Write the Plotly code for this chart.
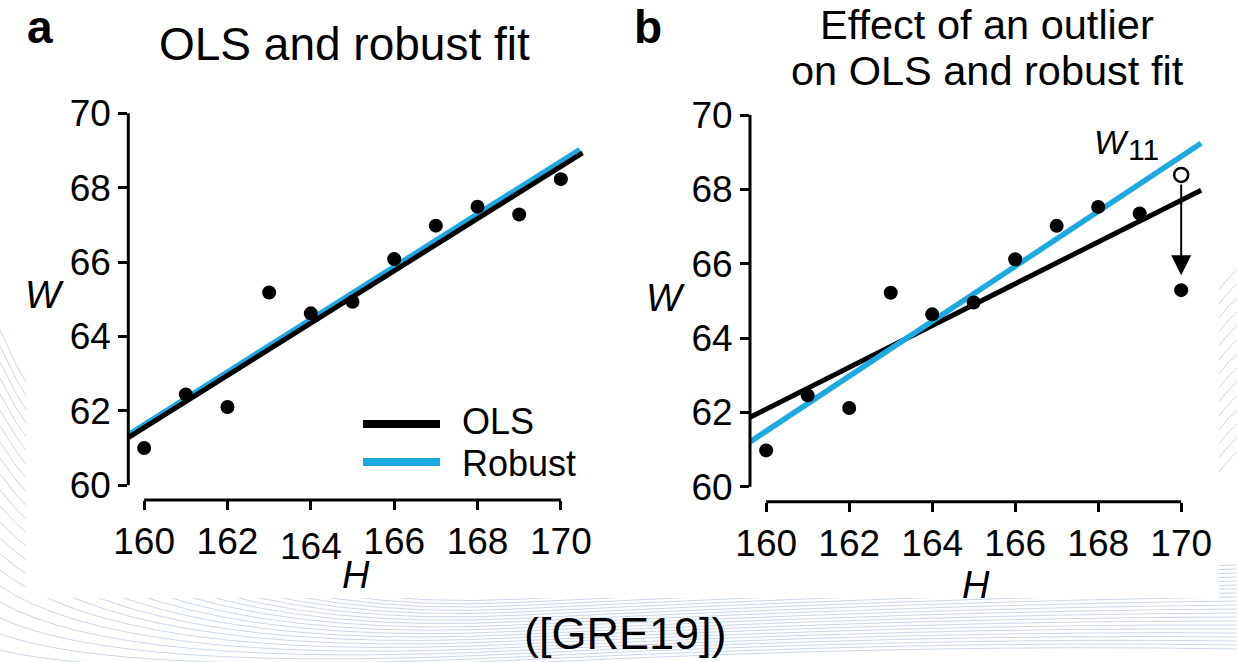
import plotly.graph_objects as go

# ---------------- data ----------------
H = [160, 161, 162, 163, 164, 165, 166, 167, 168, 169, 170]
W_a = [61.0, 62.44, 62.1, 65.18, 64.62, 64.93, 66.08, 66.98, 67.49, 67.28, 68.23]
W_b = [60.98, 62.46, 62.12, 65.22, 64.64, 64.96, 66.12, 67.02, 67.53, 67.35, 65.29]
W11_original = 68.39          # open circle (value before becoming an outlier)

# fitted line end points
fit_a_H = [159.62, 170.52]
ols_a = [61.28, 68.94]
robust_a_H = [159.62, 170.45]
robust_a = [61.37, 69.04]

fit_b_H = [159.61, 170.48]
ols_b = [61.87, 67.98]
robust_b = [61.21, 69.24]

x_ticks = [160, 162, 164, 166, 168, 170]
y_ticks = [60, 62, 64, 66, 68, 70]

BLUE = "#1ba9e0"
FONT = "Liberation Sans, Arial, Helvetica, sans-serif"
FIG_W, FIG_H = 1237, 662


def px(x):
    return x / FIG_W


def py(y):
    return 1 - y / FIG_H


fig = go.Figure()

# panel a
fig.add_trace(go.Scatter(x=robust_a_H, y=robust_a, mode="lines",
                         line=dict(color=BLUE, width=4.5), xaxis="x", yaxis="y",
                         showlegend=False))
fig.add_trace(go.Scatter(x=fit_a_H, y=ols_a, mode="lines",
                         line=dict(color="black", width=5), xaxis="x", yaxis="y",
                         showlegend=False))
fig.add_trace(go.Scatter(x=H, y=W_a, mode="markers",
                         marker=dict(color="black", size=14), xaxis="x", yaxis="y",
                         showlegend=False))

# panel b
fig.add_trace(go.Scatter(x=fit_b_H, y=ols_b, mode="lines",
                         line=dict(color="black", width=5), xaxis="x2", yaxis="y2",
                         showlegend=False))
fig.add_trace(go.Scatter(x=fit_b_H, y=robust_b, mode="lines",
                         line=dict(color=BLUE, width=5.5), xaxis="x2", yaxis="y2",
                         showlegend=False))
fig.add_trace(go.Scatter(x=H, y=W_b, mode="markers",
                         marker=dict(color="black", size=14), xaxis="x2", yaxis="y2",
                         showlegend=False))
fig.add_trace(go.Scatter(x=[H[-1]], y=[W11_original], mode="markers",
                         marker=dict(color="white", size=14,
                                     line=dict(color="black", width=2.5)),
                         xaxis="x2", yaxis="y2", showlegend=False))

axis_common = dict(showgrid=False, zeroline=False, showline=False,
                   ticks="outside", ticklen=9, tickwidth=2.5, tickcolor="black",
                   automargin=False,
                   tickfont=dict(family=FONT, size=37, color="black"))

fig.update_layout(
    width=FIG_W, height=FIG_H,
    margin=dict(l=0, r=0, t=0, b=0, pad=0, autoexpand=False),
    paper_bgcolor="white", plot_bgcolor="rgba(0,0,0,0)",
    showlegend=False,
    xaxis=dict(domain=[px(128.3), px(583.8)], range=[159.62, 170.55], anchor="y",
               tickvals=x_ticks, ticktext=["160", "162", "", "166", "168", "170"],
               **axis_common),
    yaxis=dict(domain=[py(500), py(102.2)], range=[59.6, 70.3], anchor="x",
               tickvals=y_ticks, **axis_common),
    xaxis2=dict(domain=[px(750), px(1204)], range=[159.61, 170.55], anchor="y2",
                tickvals=x_ticks, **axis_common),
    yaxis2=dict(domain=[py(501.7), py(103.9)], range=[59.6, 70.3], anchor="x2",
                tickvals=y_ticks, **axis_common),
)

shapes = []

# faint slide background (wavy lines) behind the white figure panel
WAVE = "rgba(140,165,210,0.45)"
for i in range(22):
    y0 = 330 + 16 * i
    ym = 596 + 3.2 * i
    y1 = 590 + 4.0 * i
    path = (f"M {px(0)},{py(y0)} Q {px(120)},{py(ym + 20)} {px(520)},{py(ym)} "
            f"T {px(1237)},{py(y1 - 25)}")
    shapes.append(dict(type="path", xref="paper", yref="paper", path=path,
                       line=dict(color=WAVE, width=1), layer="below"))
for i in range(14):
    y0 = 270 + 14 * i
    path = f"M {px(1212)},{py(y0 + 30)} Q {px(1225)},{py(y0 + 10)} {px(1237)},{py(y0)}"
    shapes.append(dict(type="path", xref="paper", yref="paper", path=path,
                       line=dict(color=WAVE, width=1), layer="below"))
# white figure panel
shapes.append(dict(type="rect", xref="paper", yref="paper",
                   x0=px(26), x1=px(1219), y0=py(598), y1=py(0),
                   fillcolor="white", line=dict(width=0), layer="below"))
shapes.append(dict(type="rect", xref="paper", yref="paper",
                   x0=px(0), x1=px(26), y0=py(330), y1=py(0),
                   fillcolor="white", line=dict(width=0), layer="below"))
shapes.append(dict(type="rect", xref="paper", yref="paper",
                   x0=px(1219), x1=px(1237), y0=py(270), y1=py(0),
                   fillcolor="white", line=dict(width=0), layer="below"))

# offset spines
for xa, ya in [("x", "y"), ("x2", "y2")]:
    shapes.append(dict(type="line", xref=xa, yref=ya + " domain",
                       x0=x_ticks[0], x1=x_ticks[-1], y0=0, y1=0,
                       line=dict(color="black", width=3)))
    shapes.append(dict(type="line", xref=xa + " domain", yref=ya,
                       x0=0, x1=0, y0=y_ticks[0], y1=y_ticks[-1],
                       line=dict(color="black", width=3)))

# legend (panel a)
shapes.append(dict(type="line", xref="paper", yref="paper",
                   x0=px(363), x1=px(440), y0=py(424), y1=py(424),
                   line=dict(color="black", width=8)))
shapes.append(dict(type="line", xref="paper", yref="paper",
                   x0=px(363), x1=px(440), y0=py(462), y1=py(462),
                   line=dict(color=BLUE, width=8)))
fig.update_layout(shapes=shapes)

ann = []


def text(x, baseline, s, size, xanchor="center", bold=False, italic=False):
    """Place a one-line text so that its baseline lands at the given pixel row."""
    t = s
    if italic:
        t = "<i>" + t + "</i>"
    if bold:
        t = "<b>" + t + "</b>"
    yc = baseline - 0.3465 * size
    ann.append(dict(x=px(x), y=py(yc), xref="paper", yref="paper", text=t,
                    showarrow=False, xanchor=xanchor, yanchor="middle",
                    font=dict(family=FONT, size=size, color="black")))


# panel letters and titles
text(40, 43, "a", 46, bold=True)
text(648, 43, "b", 46, bold=True)
text(344.5, 60, "OLS and robust fit", 46)
text(987, 38.5, "Effect of an outlier", 41.5)
text(987, 85, "on OLS and robust fit", 41.5)

# axis titles
text(44, 308, "W", 38, italic=True)
text(665, 311, "W", 38, italic=True)
text(356, 588, "H", 38, italic=True)
text(976, 598, "H", 38, italic=True)

# lowered 164 tick label of panel a
ann.append(dict(x=164, y=py(546), xref="x", yref="paper", text="164",
                showarrow=False, xanchor="center", yanchor="middle",
                font=dict(family=FONT, size=37, color="black")))

# legend labels
text(460, 434, "OLS", 36, xanchor="left")
text(460, 476, "Robust", 36, xanchor="left")

# W11 label
ann.append(dict(x=168.31, y=69.27, xref="x2", yref="y2", text="<i>W</i>",
                showarrow=False, xanchor="center", yanchor="middle",
                font=dict(family=FONT, size=34, color="black")))
ann.append(dict(x=169.08, y=69.08, xref="x2", yref="y2", text="11",
                showarrow=False, xanchor="center", yanchor="middle",
                font=dict(family=FONT, size=30, color="black")))

# arrow from original W11 to outlier
ann.append(dict(x=H[-1], y=W_b[-1], ax=H[-1], ay=W11_original,
                xref="x2", yref="y2", axref="x2", ayref="y2",
                text="", showarrow=True, arrowhead=2, arrowsize=2,
                arrowwidth=2, arrowcolor="black", standoff=15, startstandoff=8))

# citation
text(625, 649, "([GRE19])", 45)

fig.update_layout(annotations=ann)
fig.write_html("out.html", config={"displayModeBar": False},
               post_script="document.body.style.margin='0';"
                           "document.body.style.overflow='hidden';")
